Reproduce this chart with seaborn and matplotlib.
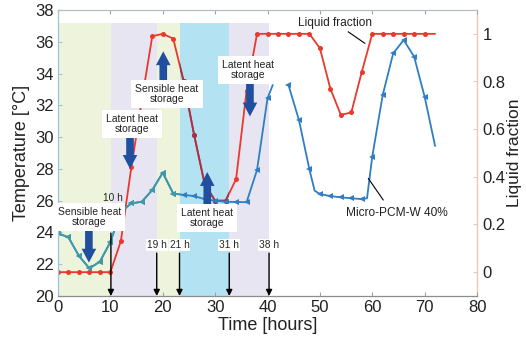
import matplotlib
matplotlib.use("Agg")
import matplotlib.pyplot as plt
import seaborn as sns
from matplotlib.patches import Rectangle

# Micro-PCM-W 40% temperature (°C), first cycle
hours_a = [0, 2, 4, 6, 8, 10, 12, 14, 16, 18, 20, 22, 24, 26, 28, 30, 32, 34, 36, 38, 40, 41]
temp_a = [23.95, 23.69, 22.52, 21.74, 22.16, 23.4, 25.3, 25.83, 25.93, 26.67, 27.76, 26.45,
          26.36, 26.29, 26.1, 26.0, 25.93, 25.92, 25.9, 27.93, 32.44, 33.28]

# Micro-PCM-W 40% temperature (°C), second cycle
hours_b = [44, 46, 48, 49, 50, 52, 54, 56, 58, 59, 60, 62, 64, 66, 68, 70, 72]
temp_b = [33.28, 31.08, 27.97, 26.63, 26.42, 26.29, 26.21, 26.15, 26.1, 26.15, 28.77,
          32.65, 35.27, 36.11, 35.06, 32.54, 29.44]

# Liquid fraction of the PCM
hours_lf = list(range(0, 74, 2))
liquid_fraction = [0, 0, 0, 0, 0, 0, 0.13, 0.44, 0.72, 0.99, 1.0, 0.98, 0.80, 0.575, 0.37,
                   0.30, 0.30, 0.39, 0.76, 1.0, 1, 1, 1, 1, 1, 0.94, 0.77, 0.66, 0.67, 0.84,
                   1, 1, 1, 1, 1, 1, 1]

# Storage phases (hours) and their shading
phase_edges = [0, 10.1, 18.85, 23.2, 32.7, 40.3]
phase_colors = ["#eef3dc", "#e8e5f3", "#eef3dc", "#b3e2f3", "#e8e5f3"]

# Event markers along the time axis
event_hours = [10.1, 18.85, 23.2, 32.7, 40.3]
event_labels = ["10 h", "19 h", "21 h", "31 h", "38 h"]

# Storage-mode callouts: (x, text y, arrow tail, arrow tip, label)
callouts = [
    (6.0, 24.97, 24.2, 22.1, "Sensible heat\nstorage"),
    (14.1, 30.82, 30.1, 28.0, "Latent heat\nstorage"),
    (20.8, 32.71, 33.3, 35.4, "Sensible heat\nstorage"),
    (28.45, 24.9, 25.75, 27.8, "Latent heat\nstorage"),
    (36.3, 34.22, 33.4, 31.3, "Latent heat\nstorage"),
]
arrow_x = [5.9, 13.75, 20.1, 28.5, 36.65]

sns.set_style("white")
plt.rcParams["font.family"] = ["Liberation Sans", "DejaVu Sans"]

RED = "#e8392c"
DARK_RED = "#a5324a"
BLUE = "#2f7ec4"
TEAL = "#3d9aa6"
NAVY = "#1f4f9e"

fig = plt.figure(figsize=(5.26, 3.42), dpi=100)
ax = fig.add_axes([58 / 526, 1 - 296 / 342, 419 / 526, 286 / 342])
ax2 = ax.twinx()
ax.set_zorder(ax2.get_zorder() + 1)
ax.patch.set_visible(False)

# shaded phases (behind everything)
for x0, x1, c in zip(phase_edges[:-1], phase_edges[1:], phase_colors):
    ax2.axvspan(x0, x1, ymin=0, ymax=(37.2 - 20) / 18, color=c, lw=0, zorder=0)

# liquid fraction on the right axis
sns.lineplot(x=hours_lf, y=liquid_fraction, ax=ax2, color=RED, marker="o", markersize=3.6,
             markeredgewidth=0, linewidth=1.3, estimator=None, sort=False, legend=False,
             markevery=list(range(len(hours_lf) - 1)))
sns.lineplot(x=hours_lf, y=liquid_fraction, ax=ax2, color=DARK_RED, marker="o", markersize=3.6,
             markeredgewidth=0, linewidth=1.3, estimator=None, sort=False, legend=False)
dark_part = ax2.lines[-1]
dark_part.set_clip_path(Rectangle((phase_edges[3], -0.1), phase_edges[4] - phase_edges[3], 1.2,
                                  transform=ax2.transData))

# temperature on the left axis
sns.lineplot(x=hours_a, y=temp_a, ax=ax, color=BLUE, marker="<", markersize=4,
             markeredgewidth=0, linewidth=1.3, estimator=None, sort=False, legend=False,
             markevery=list(range(len(hours_a) - 1)))
sns.lineplot(x=hours_a, y=temp_a, ax=ax, color=TEAL, marker="<", markersize=4,
             markeredgewidth=0, linewidth=1.3, estimator=None, sort=False, legend=False,
             markevery=list(range(len(hours_a) - 1)))
ax.lines[-1].set_clip_path(Rectangle((0, 20), phase_edges[3], 18, transform=ax.transData))
corner_free = [i for i, h in enumerate(hours_b) if h not in (49, 59, 72)]
sns.lineplot(x=hours_b, y=temp_b, ax=ax, color=BLUE, marker="<", markersize=4,
             markeredgewidth=0, linewidth=1.3, estimator=None, sort=False, legend=False,
             markevery=corner_free)

# event arrows along the time axis
for h, lab in zip(event_hours, event_labels):
    tail = 23.96 if lab == "10 h" else 22.7
    ax.annotate("", xy=(h, 20), xytext=(h, tail),
                arrowprops=dict(arrowstyle="-|>", color="black", lw=1.0, mutation_scale=9,
                                shrinkA=0, shrinkB=0), zorder=4)
    if lab == "10 h":
        ax.text(h + 0.4, 26.15, lab, ha="center", va="center", fontsize=7.3, zorder=6)
    else:
        ax.text(h, 23.2, lab, ha="center", va="center", fontsize=7.3, zorder=6,
                bbox=dict(boxstyle="square,pad=0.1", fc="white", ec="none"))

# storage-mode callouts with thick arrows
for (tx, ty, tail, tip, lab), axx in zip(callouts, arrow_x):
    ax.annotate("", xy=(axx, tip), xytext=(axx, tail),
                arrowprops=dict(arrowstyle="simple,head_width=1.05,head_length=1.0,tail_width=0.55",
                                fc=NAVY, ec="none", mutation_scale=10, shrinkA=0, shrinkB=0),
                zorder=5)
    ax.text(tx, ty, lab, ha="center", va="center", fontsize=7.5, linespacing=1.05, zorder=6,
            color="#222222",
            bbox=dict(boxstyle="square,pad=0.38", fc="white", ec="none"))

# series labels with leader lines
ax.text(52.9, 37.16, "Liquid fraction", ha="center", va="center", fontsize=8.6, color="#222222")
ax.annotate("", xy=(58.6, 35.9), xytext=(55.4, 36.63),
            arrowprops=dict(arrowstyle="-", color="black", lw=0.8, shrinkA=0, shrinkB=0))
ax.text(64.7, 25.2, "Micro-PCM-W 40%", ha="center", va="center", fontsize=8.6, color="#222222")
ax.annotate("", xy=(59.25, 27.4), xytext=(62.1, 26.04),
            arrowprops=dict(arrowstyle="-", color="black", lw=0.8, shrinkA=0, shrinkB=0))

# axes, ticks, spines
ax.set_xlim(0, 80)
ax.set_ylim(20, 38)
ax2.set_ylim(-0.1, 1.1)
ax.set_xticks(range(0, 81, 10))
ax.set_yticks(range(20, 39, 2))
ax2.set_yticks([0, 0.2, 0.4, 0.6, 0.8, 1.0])
ax2.set_yticklabels(["0", "0.2", "0.4", "0.6", "0.8", "1"])

ax.tick_params(axis="x", top=True, bottom=True, direction="in", length=3, color="#9aa4ae",
               labelsize=12, labelcolor="#222222", pad=3)
ax.tick_params(axis="y", left=True, right=False, direction="in", length=3, color="#9ec3dc",
               labelsize=12, labelcolor="#222222", pad=3)
ax2.tick_params(axis="y", right=True, direction="in", length=3, color="#f2c4a8",
                labelsize=12, labelcolor="#222222", pad=4)

for side in ["left", "right", "top", "bottom"]:
    ax2.spines[side].set_visible(side == "right")
ax.spines["right"].set_visible(False)
ax.spines["left"].set_color("#9ec3dc")
ax.spines["top"].set_color("#b4bcc4")
ax.spines["bottom"].set_color("#8c8c8c")
ax2.spines["right"].set_color("#f2c4a8")
for s in ax.spines.values():
    s.set_linewidth(0.9)
ax2.spines["right"].set_linewidth(0.9)

ax.set_xlabel("Time [hours]", fontsize=13, color="#222222", labelpad=1)
ax.set_ylabel("Temperature [°C]", fontsize=13, color="#222222", labelpad=4)
ax2.set_ylabel("Liquid fraction", fontsize=12.5, color="#222222", labelpad=1)

fig.savefig("out.png", dpi=100)
